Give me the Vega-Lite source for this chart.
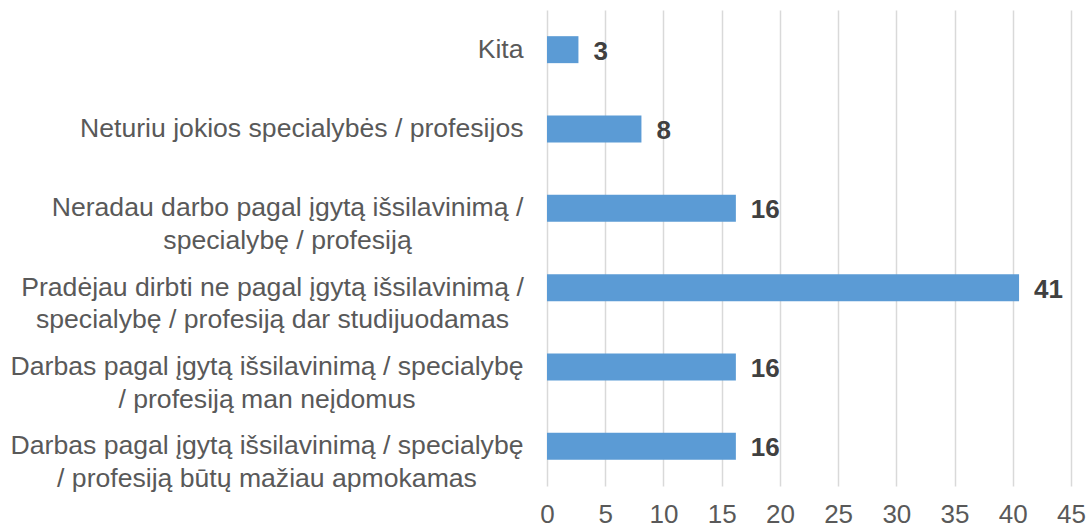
{
  "$schema": "https://vega.github.io/schema/vega-lite/v6.json",
  "width": 524,
  "height": 476,
  "autosize": {"type": "none"},
  "padding": {"left": 547, "top": 10, "right": 16, "bottom": 42},
  "background": "white",
  "config": {"view": {"stroke": null}, "font": "Liberation Sans"},
  "data": {
    "values": [
      {"kategorija": "Kita", "procentai": 2.7},
      {"kategorija": "Neturiu jokios specialybės / profesijos", "procentai": 8.11},
      {"kategorija": "Neradau darbo pagal įgytą išsilavinimą /|specialybę / profesiją", "procentai": 16.22},
      {"kategorija": "Pradėjau dirbti ne pagal įgytą išsilavinimą /|specialybę / profesiją dar studijuodamas", "procentai": 40.54},
      {"kategorija": "Darbas pagal įgytą išsilavinimą / specialybę|/ profesiją man neįdomus", "procentai": 16.22},
      {"kategorija": "Darbas pagal įgytą išsilavinimą / specialybę|/ profesiją būtų mažiau apmokamas", "procentai": 16.22}
    ]
  },
  "encoding": {
    "y": {
      "field": "kategorija",
      "type": "nominal",
      "sort": null,
      "scale": {"paddingInner": 0.66, "paddingOuter": 0.33},
      "axis": {
        "title": null,
        "ticks": false,
        "tickSize": 0,
        "domain": false,
        "grid": false,
        "labelExpr": "split(datum.label, '|')",
        "labelFont": "Liberation Sans",
        "labelFontSize": 26.6,
        "labelLineHeight": 32.5,
        "labelColor": "#595959",
        "labelLimit": 0,
        "labelAlign": {
          "condition": {"test": "indexof(datum.value, '|') >= 0", "value": "center"},
          "value": "right"
        },
        "labelPadding": {
          "condition": [
            {"test": "indexof(datum.value, 'Neradau') == 0", "value": 260},
            {"test": "indexof(datum.value, 'Pradėjau') == 0", "value": 275},
            {"test": "indexof(datum.value, 'Darbas') == 0", "value": 280.5}
          ],
          "value": 24
        }
      }
    },
    "x": {
      "field": "procentai",
      "type": "quantitative",
      "scale": {"domain": [0, 45], "nice": false},
      "axis": {
        "title": null,
        "values": [0, 5, 10, 15, 20, 25, 30, 35, 40, 45],
        "domain": false,
        "ticks": false,
        "tickSize": 0,
        "grid": true,
        "gridColor": "#D9D9D9",
        "gridWidth": 1.5,
        "labelFont": "Liberation Sans",
        "labelFontSize": 26,
        "labelColor": "#595959",
        "labelPadding": 15,
        "labelFlush": false
      }
    }
  },
  "layer": [
    {"mark": {"type": "bar", "color": "#5B9BD5"}},
    {
      "mark": {"type": "text", "align": "left", "dx": 15, "dy": 2, "fontWeight": "bold", "fontSize": 26, "color": "#404040", "font": "Liberation Sans"},
      "encoding": {"text": {"field": "procentai", "type": "quantitative", "format": ".0f"}}
    }
  ]
}
